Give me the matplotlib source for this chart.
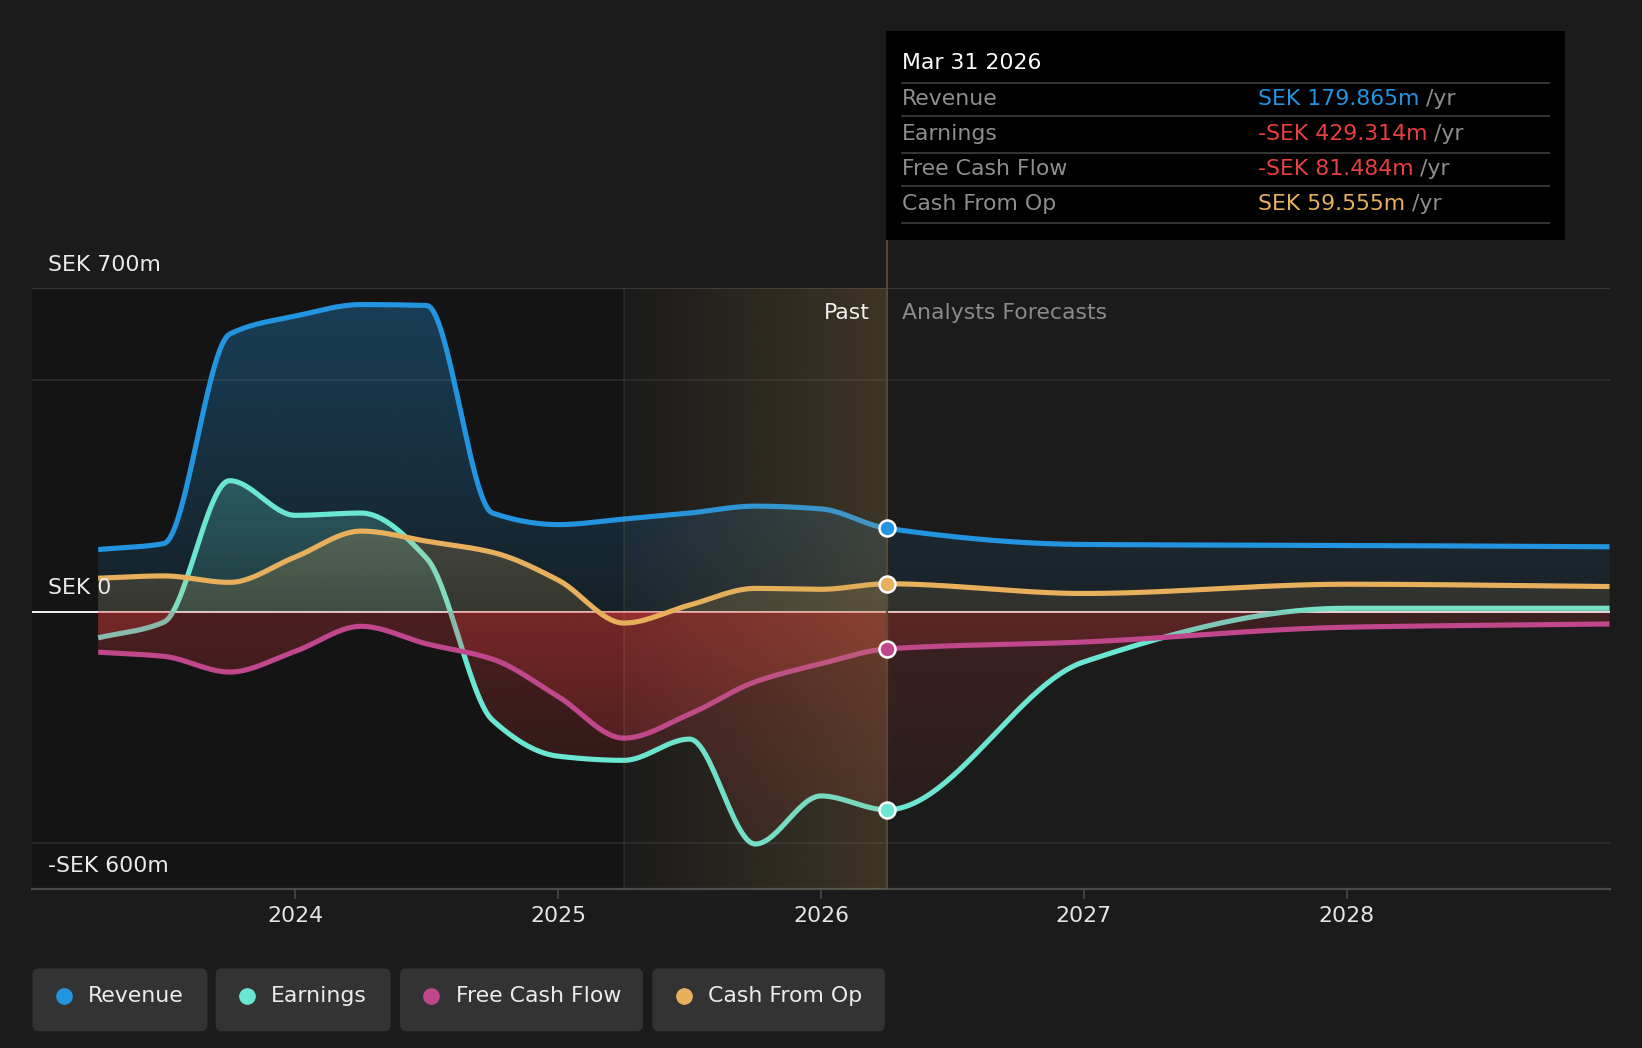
import numpy as np
import matplotlib
matplotlib.use('Agg')
import matplotlib.pyplot as plt
from matplotlib.colors import to_rgb
from matplotlib.patches import FancyBboxPatch, Rectangle
from matplotlib.path import Path

# values in SEK m, trailing twelve months (past) and analyst forecasts
dates = [2023.25, 2023.5, 2023.75, 2024.0, 2024.25, 2024.5, 2024.75, 2025.0,
         2025.25, 2025.5, 2025.75, 2026.0, 2026.25, 2027.0, 2028.0, 2029.0]
revenue = [134, 147, 600, 639, 664, 662, 213, 188, 200, 213, 228, 222, 180, 145, 143, 140]
earnings = [-57, -23, 283, 208, 213, 115, -235, -313, -322, -276, -503, -399, -429, -109, 7, 7]
free_cash_flow = [-88, -97, -131, -86, -32, -70, -103, -184, -274, -222, -152, -113, -81, -66, -34, -27]
cash_from_op = [72, 77, 63, 118, 174, 152, 128, 68, -25, 14, 50, 48, 60, 39, 59, 54]

series_names = ['Revenue', 'Earnings', 'Free Cash Flow', 'Cash From Op']
series_colors = ['#2394df', '#6ae6d2', '#c0478b', '#e8b05c']
tooltip_values = ['SEK 179.865m', '-SEK 429.314m', '-SEK 81.484m', 'SEK 59.555m']
tooltip_colors = ['#2394df', '#e8403f', '#e8403f', '#e8b05c']
tooltip_date = 'Mar 31 2026'

year_ticks = [2024, 2025, 2026, 2027, 2028]
y_label_values = [700, 0, -600]
y_label_texts = ['SEK 700m', 'SEK 0', '-SEK 600m']
grid_values = [500, -500]

X0, X1 = 2023.0, 2029.0
Y_BOTTOM, Y_TOP = -600, 700
band_start = 2025.25
today = 2026.25

BG = '#1b1b1b'
PAST_BG = '#141414'
RED = '#e03c3c'
FS = 15.8


def monotone(x, y, n=700):
    """Monotone cubic (Fritsch-Carlson) used to draw smooth lines."""
    x = np.asarray(x, float)
    y = np.asarray(y, float)
    h = np.diff(x)
    d = np.diff(y) / h
    m = np.zeros_like(y)
    m[0], m[-1] = d[0], d[-1]
    for i in range(1, len(y) - 1):
        if d[i - 1] * d[i] > 0:
            w1 = 2 * h[i] + h[i - 1]
            w2 = h[i] + 2 * h[i - 1]
            m[i] = (w1 + w2) / (w1 / d[i - 1] + w2 / d[i])
    xs = np.linspace(x[0], x[-1], n)
    k = np.clip(np.searchsorted(x, xs) - 1, 0, len(h) - 1)
    t = (xs - x[k]) / h[k]
    h00 = 2 * t**3 - 3 * t**2 + 1
    h10 = t**3 - 2 * t**2 + t
    h01 = -2 * t**3 + 3 * t**2
    h11 = t**3 - t**2
    ys = h00 * y[k] + h10 * h[k] * m[k] + h01 * y[k + 1] + h11 * h[k] * m[k + 1]
    return xs, ys


def gradient_fill(ax, xs, ys, color, a_zero, a_edge, positive, z, dim=0.65):
    mask = ys >= 0 if positive else ys <= 0
    if not mask.any():
        return
    coll = ax.fill_between(xs, ys, 0, where=mask, interpolate=True,
                           facecolor='none', edgecolor='none')
    paths = coll.get_paths()
    coll.remove()
    if not paths:
        return
    clip = Path.make_compound_path(*paths)
    rows = np.linspace(Y_TOP, Y_BOTTOM, 400)
    cols = np.linspace(X0, X1, 400)
    if positive:
        frac = np.clip(rows / Y_TOP, 0, 1)
    else:
        frac = np.clip(rows / Y_BOTTOM, 0, 1)
    alpha = a_zero + (a_edge - a_zero) * frac
    a2d = alpha[:, None] * np.where(cols > today, dim, 1.0)[None, :]
    img = np.zeros((400, 400, 4))
    img[..., :3] = to_rgb(color)
    img[..., 3] = a2d
    im = ax.imshow(img, extent=[X0, X1, Y_BOTTOM, Y_TOP], origin='upper',
                   aspect='auto', interpolation='bilinear', zorder=z)
    im.set_clip_path(clip, transform=ax.transData)


fig = plt.figure(figsize=(16.42, 10.48), dpi=100, facecolor=BG)
ax = fig.add_axes([31 / 1568, 1 - 849 / 1001, 1506 / 1568, 574 / 1001])
ax.set_facecolor(BG)

# past background and highlighted last year
ax.add_patch(Rectangle((X0, Y_BOTTOM), band_start - X0, Y_TOP - Y_BOTTOM,
                       facecolor=PAST_BG, edgecolor='none', zorder=0))
band = np.zeros((2, 200, 4))
band[..., :3] = to_rgb('#c8a050')
band[..., 3] = np.linspace(0.0, 0.2, 200)[None, :]
ax.imshow(band, extent=[band_start, today, Y_BOTTOM, Y_TOP], aspect='auto',
          interpolation='bilinear', zorder=2.9)
ax.axvline(band_start, color='#c8a050', alpha=0.14, lw=1.2, zorder=2.95)
ax.axvline(today, ymin=0, ymax=(849 - 230) / 574, color='#5c4c33', lw=1.3,
           zorder=2.95, clip_on=False)

# grid
ax.axhline(Y_TOP, color='#3c3c3c', lw=1.2, zorder=1)
for g in grid_values:
    ax.axhline(g, color='#2e2e2e', lw=1.2, zorder=1)
ax.axhline(0, color='#f2f2f2', lw=1.4, zorder=1.5)

all_series = [revenue, earnings, free_cash_flow, cash_from_op]
pos_alpha = [(0.10, 0.34), (0.14, 0.40), None, (0.16, 0.40)]
z = 2.0
for vals, color, pa in zip(all_series, series_colors, pos_alpha):
    xs, ys = monotone(dates, vals)
    if pa is not None:
        gradient_fill(ax, xs, ys, color, pa[0], pa[1], True, z)
    gradient_fill(ax, xs, ys, RED, 0.28, 0.05, False, z)
    ax.plot(xs, ys, color=color, lw=3.7, solid_capstyle='butt', zorder=z + 0.1)
    i = dates.index(today)
    ax.plot([today], [vals[i]], 'o', ms=11.5, mfc=color, mec='white', mew=1.8, zorder=6)
    z += 0.2

ax.set_xlim(X0, X1)
ax.set_ylim(Y_BOTTOM, Y_TOP)
for s in ['top', 'right', 'left']:
    ax.spines[s].set_visible(False)
ax.spines['bottom'].set_color('#4a4a4a')
ax.spines['bottom'].set_linewidth(1.6)
ax.set_xticks(year_ticks)
ax.set_xticklabels([str(y) for y in year_ticks])
ax.tick_params(axis='x', colors='#4a4a4a', length=7, width=1.2, pad=5,
               labelcolor='#e6e6e6', labelsize=FS)
ax.set_yticks([])

for v, t in zip(y_label_values, y_label_texts):
    ax.text(X0 + 15 / 251, v + 50, t, color='#ececec', fontsize=FS,
            va='center', ha='left', zorder=7, clip_on=False)

ax.text(today - 16 / 251, 646, 'Past', color='#f0f0f0', fontsize=FS,
        ha='right', va='center', zorder=7)
ax.text(today + 15 / 251, 646, 'Analysts Forecasts', color='#8a8a8a',
        fontsize=FS, ha='left', va='center', zorder=7)

# overlay for tooltip and legend, in pixel-like units
ov = fig.add_axes([0, 0, 1, 1], zorder=10)
ov.set_xlim(0, 1568)
ov.set_ylim(1001, 0)
ov.axis('off')
ov.patch.set_alpha(0)

ov.add_patch(Rectangle((846, 30), 648, 199, facecolor='black', edgecolor='none'))
ov.text(861, 60, tooltip_date, color='white', fontsize=FS, va='center')
for ly in [79, 111, 146, 178, 213]:
    ov.plot([861, 1479], [ly, ly], color='#3a3a3a', lw=1.3)
for k, (name, val, col) in enumerate(zip(series_names, tooltip_values, tooltip_colors)):
    yc = 95 + k * 33.3
    ov.text(861, yc, name, color='#8e8e8e', fontsize=FS, va='center')
    t = ov.text(1201, yc, val, color=col, fontsize=FS, va='center')
    ov.annotate(' /yr', xy=(1, 0.5), xycoords=t, color='#8e8e8e', fontsize=FS,
                va='center', ha='left')

legend_boxes = [(31, 198), (206, 373), (382, 614), (623, 845)]
for (bx0, bx1), name, col in zip(legend_boxes, series_names, series_colors):
    ov.add_patch(FancyBboxPatch((bx0, 925), bx1 - bx0, 60,
                                boxstyle='round,pad=0,rounding_size=6',
                                facecolor='#333333', edgecolor='none'))
    ov.plot([bx0 + 30], [951], 'o', ms=11, color=col)
    ov.text(bx0 + 53, 951, name, color='#ececec', fontsize=FS, va='center')

fig.savefig('out.png', dpi=100, facecolor=BG)
